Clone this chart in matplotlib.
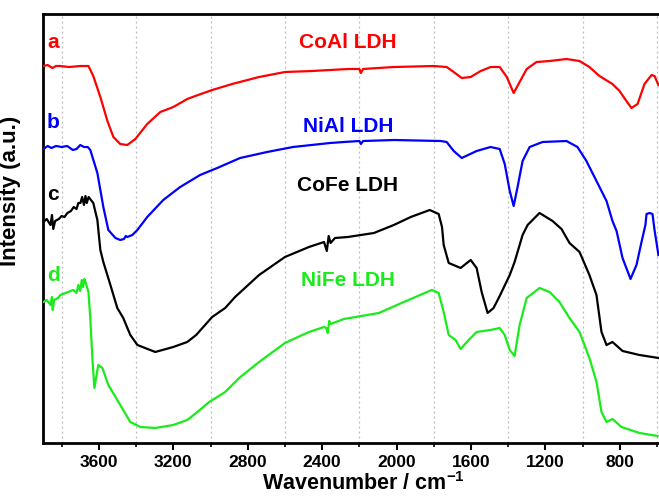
import matplotlib
matplotlib.use("Agg")
import matplotlib.pyplot as plt
from matplotlib.ticker import MultipleLocator

plt.rcParams['font.family'] = ['Liberation Sans', 'DejaVu Sans']
plt.rcParams['mathtext.fontset'] = 'custom'
plt.rcParams['mathtext.bf'] = 'Liberation Sans:bold'
plt.rcParams['mathtext.rm'] = 'Liberation Sans'

# FTIR spectra (wavenumber in cm^-1, offset intensity in a.u.)
wn_coal = [3898, 3875, 3850, 3830, 3807, 3760, 3700, 3656, 3630, 3592, 3554, 3522, 3485,
           3447, 3404, 3340, 3270, 3200, 3125, 3082, 2991, 2884, 2739, 2600, 2455, 2262,
           2200, 2192, 2180, 2015, 1801, 1731, 1693, 1650, 1602, 1548, 1495, 1446, 1408,
           1371, 1339, 1301, 1248, 1178, 1087, 1017, 964, 910, 840, 802, 765, 738, 705,
           668, 630, 614, 593]
int_coal = [377, 378, 375, 377, 377, 376, 377, 377, 367, 346, 322, 306, 299,
            298, 304, 319, 331, 336, 344, 347, 353, 359, 366, 371, 372, 374,
            374, 370, 374, 376, 377, 376, 371, 365, 366, 372, 376, 376, 366,
            350, 361, 374, 381, 382, 384, 382, 376, 367, 359, 352, 342, 335, 339,
            359, 368, 367, 358]

wn_nial = [3898, 3875, 3855, 3830, 3800, 3770, 3740, 3720, 3700, 3680, 3660, 3646, 3608,
           3576, 3549, 3511, 3485, 3465, 3455, 3447, 3420, 3393, 3340, 3254, 3163, 3056,
           2964, 2841, 2696, 2557, 2358, 2283, 2200, 2192, 2180, 2015, 1763, 1731, 1693,
           1650, 1570, 1495, 1446, 1419, 1392, 1371, 1350, 1323, 1285, 1216, 1087, 1028,
           980, 926, 872, 840, 818, 786, 743, 711, 684, 663, 657, 641, 625, 614, 593]
int_nial = [294, 297, 295, 297, 296, 297, 293, 294, 298, 296, 296, 293, 270,
            236, 213, 205, 203, 204, 207, 206, 208, 213, 226, 243, 256, 268,
            275, 285, 291, 296, 300, 301, 302, 299, 302, 303, 302, 301, 292,
            285, 292, 296, 294, 279, 252, 237, 256, 282, 296, 301, 302, 296,
            282, 262, 242, 222, 212, 185, 164, 178, 201, 218, 229, 230, 229, 213, 188]

wn_cofe = [3898, 3880, 3860, 3852, 3845, 3835, 3815, 3800, 3785, 3769, 3750, 3735, 3720,
           3710, 3699, 3690, 3680, 3672, 3665, 3655, 3630, 3608, 3592, 3576, 3538, 3501,
           3469, 3431, 3393, 3297, 3200, 3125, 3077, 2991, 2921, 2868, 2739, 2600, 2471,
           2390, 2375, 2365, 2355, 2331, 2262, 2122, 2015, 1924, 1822, 1774, 1756, 1747,
           1720, 1656, 1602, 1570, 1543, 1511, 1479, 1446, 1392, 1366, 1323, 1296, 1232,
           1162, 1114, 1071, 1017, 964, 926, 899, 872, 840, 786, 695, 593]
int_cofe = [221, 224, 218, 228, 214, 222, 224, 227, 226, 230, 232, 236, 234,
            240, 240, 246, 238, 247, 240, 246, 240, 223, 193, 181, 158, 135,
            125, 108, 98, 91, 96, 101, 108, 126, 135, 146, 168, 186, 196,
            201, 192, 207, 200, 205, 206, 210, 218, 226, 233, 229, 216, 198,
            180, 175, 183, 175, 151, 130, 135, 147, 168, 181, 208, 218, 230,
            222, 214, 200, 191, 168, 148, 111, 98, 101, 92, 88, 85]

wn_nife = [3898, 3880, 3860, 3852, 3848, 3840, 3820, 3807, 3737, 3720, 3710, 3700, 3692,
           3685, 3678, 3670, 3656, 3646, 3635, 3624, 3603, 3581, 3549, 3485, 3431, 3377,
           3297, 3200, 3125, 3077, 3007, 2921, 2846, 2739, 2600, 2471, 2390, 2378, 2370,
           2362, 2355, 2283, 2095, 1961, 1811, 1774, 1747, 1720, 1683, 1656, 1613, 1570,
           1495, 1446, 1419, 1392, 1366, 1339, 1301, 1232, 1178, 1125, 1071, 1017, 964,
           926, 899, 872, 840, 792, 695, 598]
int_nife = [141, 143, 138, 146, 133, 143, 145, 148, 153, 150, 158, 152, 163,
            156, 164, 160, 151, 125, 85, 55, 78, 75, 58, 38, 21, 16,
            15, 18, 23, 30, 41, 51, 65, 81, 100, 111, 116, 115, 110,
            122, 119, 124, 130, 141, 153, 150, 131, 108, 103, 94, 103, 111,
            113, 115, 108, 93, 87, 118, 145, 155, 151, 141, 125, 111, 85,
            61, 31, 21, 24, 16, 10, 7]

series = [
    (wn_coal, int_coal, '#ff0000', 'a', 'CoAl LDH', 401, 401),
    (wn_nial, int_nial, '#0000ff', 'b', 'NiAl LDH', 321, 317),
    (wn_cofe, int_cofe, '#000000', 'c', 'CoFe LDH', 248, 257),
    (wn_nife, int_nife, '#1aeb1a', 'd', 'NiFe LDH', 167, 162),
]

fig = plt.figure(figsize=(6.59, 4.97), dpi=100)
ax = fig.add_axes([0.0653, 0.1087, 0.9347, 0.8631])

for wn, inten, color, letter, name, y_letter, y_name in series:
    ax.plot(wn, inten, color=color, lw=1.6, zorder=3)
    ax.text(3845, y_letter, letter, color=color, fontsize=15, fontweight='bold',
            ha='center', va='center')
    ax.text(2262, y_name, name, color=color, fontsize=15, fontweight='bold',
            ha='center', va='center')

ax.set_xlim(3900, 590)
ax.set_ylim(0, 429)

ax.xaxis.set_minor_locator(MultipleLocator(200))
ax.set_xticks([3600, 3200, 2800, 2400, 2000, 1600, 1200, 800])
for v in range(3800, 500, -400):
    ax.axvline(v, color='#bbbbbb', lw=0.9, ls=(0, (1.5, 2.5)), zorder=1)

ax.set_yticks([])
ax.tick_params(axis='x', which='major', direction='out', length=5, width=1.5,
               labelsize=12.5, pad=4)
ax.tick_params(axis='x', which='minor', direction='out', length=3, width=1.2)
for lab in ax.get_xticklabels():
    lab.set_fontweight('bold')

for side in ('left', 'bottom', 'top'):
    ax.spines[side].set_linewidth(2)
ax.spines['right'].set_visible(False)

ax.set_xlabel('Wavenumber / cm$^{\\mathbf{-1}}$', fontsize=15.5, fontweight='bold')
ax.xaxis.set_label_coords(0.52, -0.068)
ax.set_ylabel('Intensity (a.u.)', fontsize=16, fontweight='bold')
ax.yaxis.set_label_coords(-0.036, 0.587)

fig.savefig('out.png', dpi=100)
